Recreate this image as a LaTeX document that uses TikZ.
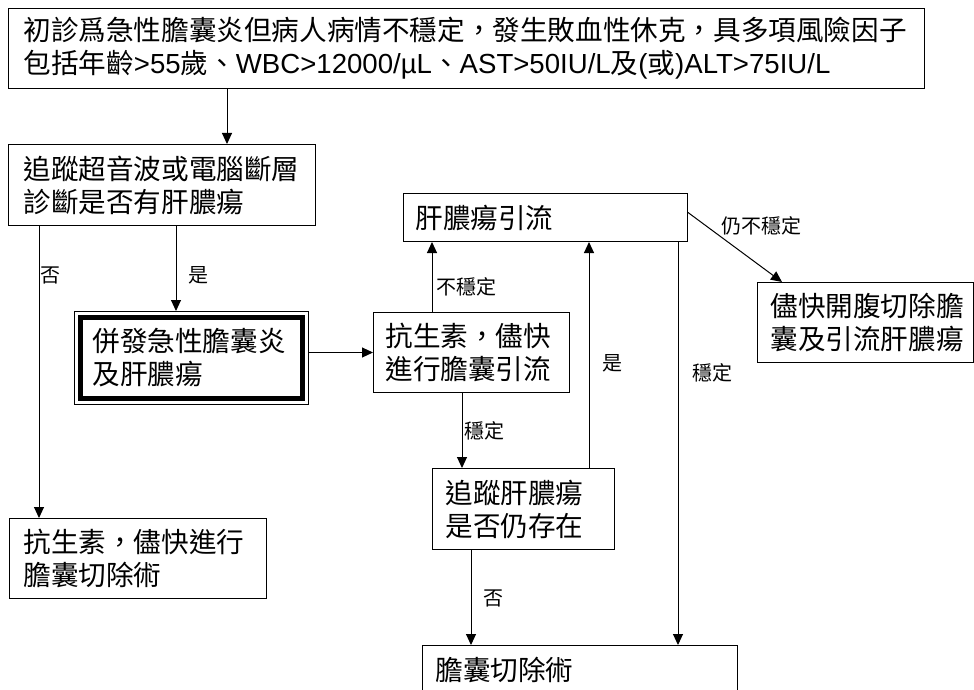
\documentclass[tikz,border=0pt]{standalone}
\usepackage{fontspec}
\setmainfont{Noto Sans CJK TC}
\newfontfamily\lat{Liberation Sans}
\usetikzlibrary{arrows.meta,calc}
\begin{document}
\begin{tikzpicture}[x=1pt,y=-1pt,
  box/.style={draw, line width=1pt, anchor=north west, inner ysep=0pt,
    align=left, font=\fontsize{27.6}{33}\selectfont},
  arr/.style={line width=1pt, -{Triangle[width=10pt,length=11pt]}},
  lbl/.style={font=\fontsize{20}{22}\selectfont, inner sep=0pt, anchor=west}]
\useasboundingbox (0,0) rectangle (974,690);

\node[box, inner xsep=15pt, text width=886pt, minimum height=80pt] (top) at (8,8)
  {初診爲急性膽囊炎但病人病情不穩定，發生敗血性休克，具多項風險因子\\
   包括年齡{\lat >55}歲、{\lat WBC>12000/µL}、{\lat AST>50IU/L}及{\lat (}或{\lat )}{\lat ALT>75IU/L}};
\node[box, inner xsep=15pt, text width=277pt, minimum height=81pt] (b2) at (8,144)
  {追蹤超音波或電腦斷層\\診斷是否有肝膿瘍};
\node[box, inner xsep=18pt, text width=198pt, minimum height=93pt] (dbl) at (74,311)
  {併發急性膽囊炎\\及肝膿瘍};
\draw[line width=4.5pt] ([shift={(6.5pt,-6.5pt)}]dbl.north west) rectangle ([shift={(-6.5pt,6.5pt)}]dbl.south east);
\node[box, inner xsep=12pt, text width=172pt, minimum height=80pt] (abx) at (373,312)
  {抗生素，儘快\\進行膽囊引流};
\node[box, inner xsep=12pt, text width=260pt, minimum height=48pt] (drain) at (403,193)
  {肝膿瘍引流};
\node[box, inner xsep=13pt, text width=190pt, minimum height=80pt] (open) at (757,282)
  {儘快開腹切除膽\\囊及引流肝膿瘍};
\node[box, inner xsep=13pt, text width=156pt, minimum height=81pt] (track) at (432,468)
  {追蹤肝膿瘍\\是否仍存在};
\node[box, inner xsep=13pt, text width=289pt, minimum height=48pt] (chole) at (422,645)
  {膽囊切除術};
\node[box, inner xsep=14pt, text width=229pt, minimum height=80pt] (lb) at (9,518)
  {抗生素，儘快進行\\膽囊切除術};

\draw[arr] ([xshift=219pt]top.south west) -- ([xshift=219pt]b2.north west);
\draw[arr] ([xshift=31pt]b2.south west) -- node[lbl, pos=0.171, xshift=1pt] {否} ([xshift=30pt]lb.north west);
\draw[arr] ([xshift=168pt]b2.south west) -- node[lbl, pos=0.58, xshift=12pt] {是} ([xshift=102pt]dbl.north west);
\draw[arr] (dbl.east |- abx.west) -- (abx.west);
\draw[arr] ([xshift=59pt]abx.north west) -- node[lbl, pos=0.366, xshift=4pt] {不穩定} ([xshift=29pt]drain.south west);
\draw[arr] ([xshift=157pt]track.north west) -- node[lbl, pos=0.463, xshift=13pt] {是} ([xshift=186pt]drain.south west);
\draw[arr] ([xshift=89pt]abx.south west) -- node[lbl, pos=0.5, xshift=2pt] {穩定} ([xshift=30pt]track.north west);
\draw[arr] ([xshift=39pt]track.south west) -- node[lbl, pos=0.51, xshift=12pt] {否} ([xshift=49pt]chole.north west);
\draw[arr] ([xshift=275pt]drain.south west) -- node[lbl, pos=0.324, xshift=14pt] {穩定} ([xshift=256pt]chole.north west);
\draw[arr] ([yshift=5pt]drain.east) -- node[lbl, pos=0.35, anchor=south west, yshift=1pt] {仍不穩定} ([xshift=25pt]open.north west);
\end{tikzpicture}
\end{document}
